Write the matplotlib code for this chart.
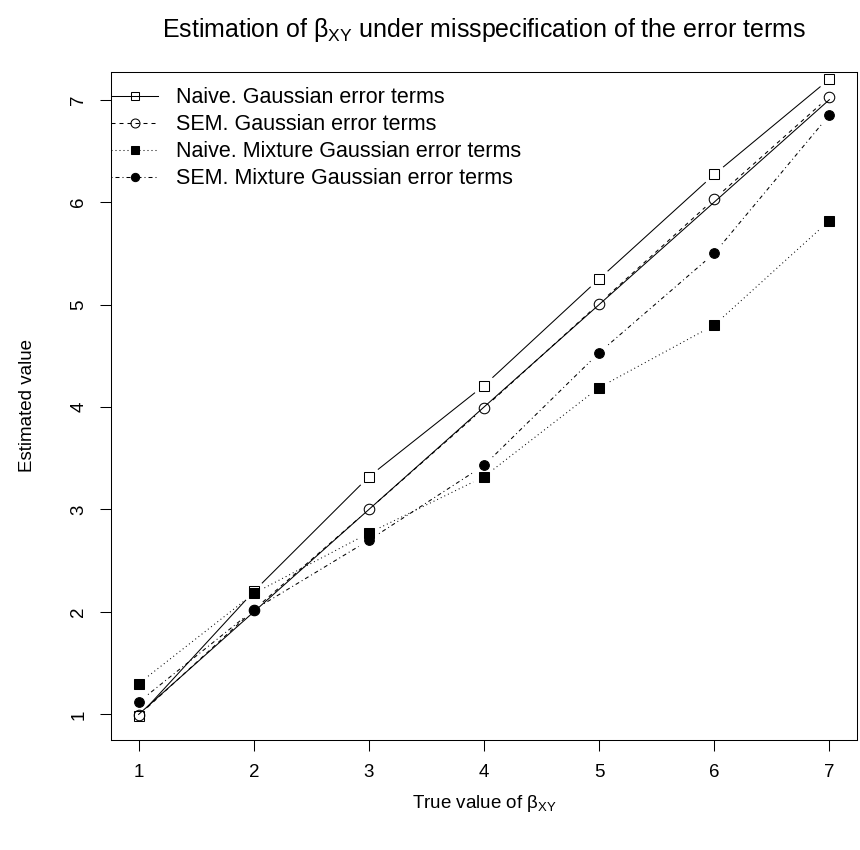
import numpy as np
import matplotlib
matplotlib.use("Agg")
import matplotlib.pyplot as plt

plt.rcParams['font.family'] = ['Liberation Sans', 'DejaVu Sans']
plt.rcParams['mathtext.fontset'] = 'custom'
plt.rcParams['mathtext.rm'] = 'Liberation Sans'
plt.rcParams['mathtext.it'] = 'Liberation Sans'
plt.rcParams['lines.scale_dashes'] = False

true_beta = [1, 2, 3, 4, 5, 6, 7]
naive_gauss = [0.98, 2.20, 3.32, 4.21, 5.25, 6.27, 7.20]
sem_gauss = [0.99, 2.02, 3.00, 3.99, 5.01, 6.03, 7.03]
naive_mix = [1.30, 2.18, 2.77, 3.32, 4.19, 4.80, 5.82]
sem_mix = [1.12, 2.02, 2.70, 3.43, 4.53, 5.50, 6.85]

labels = ["Naive. Gaussian error terms",
          "SEM. Gaussian error terms",
          "Naive. Mixture Gaussian error terms",
          "SEM. Mixture Gaussian error terms"]

W, H = 860, 850
fig = plt.figure(figsize=(W / 100, H / 100), dpi=100)
L, R, T, B = 111, 857, 72, 740
ax = fig.add_axes([L / W, 1 - B / H, (R - L) / W, (B - T) / H])
ax.set_xlim(0.76, 7.24)
ax.set_ylim(0.75, 7.27)

px = 0.72  # points per pixel
styles = [
    dict(ls='-', marker='s', mfc='none'),
    dict(ls=(0, (4 * px, 4 * px)), marker='o', mfc='none'),
    dict(ls=(0, (1 * px, 3 * px)), marker='s', mfc='black'),
    dict(ls=(0, (1 * px, 3 * px, 4 * px, 3 * px)), marker='o', mfc='black'),
]
msizes = [7.4, 7.6, 7.0, 7.0]

def gapped(xs, ys, gap=12.0):
    pts = ax.transData.transform(np.column_stack([xs, ys]))
    segx, segy = [], []
    for i in range(len(pts) - 1):
        p0, p1 = pts[i], pts[i + 1]
        d = p1 - p0
        n = np.hypot(*d)
        if n <= 2 * gap:
            continue
        u = d / n
        a = ax.transData.inverted().transform([p0 + u * gap, p1 - u * gap])
        segx += [a[0, 0], a[1, 0], np.nan]
        segy += [a[0, 1], a[1, 1], np.nan]
    return segx, segy

# reference line y = x
ax.plot(true_beta, true_beta, color='black', lw=0.75, zorder=2)

handles = []
for vals, st, ms in zip([naive_gauss, sem_gauss, naive_mix, sem_mix], styles, msizes):
    sx, sy = gapped(true_beta, vals)
    ax.plot(sx, sy, color='black', lw=0.75, ls=st['ls'], zorder=2)
    ax.plot(true_beta, vals, ls='none', marker=st['marker'], ms=ms,
            mfc=st['mfc'], mec='black', mew=0.75, zorder=3)
    h, = ax.plot([], [], color='black', lw=0.75, ls=st['ls'],
                 marker=st['marker'], ms=ms * 0.85, mfc=st['mfc'], mec='black', mew=0.75)
    handles.append(h)

lfs = 15.5
lfs_px = lfs / 0.72
bp = 0.7
leg = ax.legend(handles, labels, loc='upper left',
                bbox_to_anchor=(-(bp * lfs_px) / (R - L), 1),
                frameon=False, fontsize=lfs, handlelength=2.2, handletextpad=0.8,
                borderaxespad=0.0, borderpad=bp, labelspacing=0.28)

ax.set_xticks(true_beta)
ax.set_yticks([1, 2, 3, 4, 5, 6, 7])
ax.tick_params(direction='out', length=8, width=0.75, labelsize=13.5, pad=9)
for lab in ax.get_yticklabels():
    lab.set_rotation(90)
    lab.set_va('center')
for s in ax.spines.values():
    s.set_linewidth(0.75)

ax.set_xlabel(r'True value of $\beta_{\mathrm{XY}}$', fontsize=13.5, va='center')
ax.xaxis.set_label_coords(0.5, -63 / (B - T))
ax.set_ylabel('Estimated value', fontsize=13.5, va='center')
ax.yaxis.set_label_coords(-83 / (R - L), 0.5)

fig.text((L + R) / 2 / W, 1 - 30 / H,
         r'Estimation of $\beta_{\mathrm{XY}}$ under misspecification of the error terms',
         ha='center', va='center', fontsize=18)

fig.savefig('out.png', dpi=100)
